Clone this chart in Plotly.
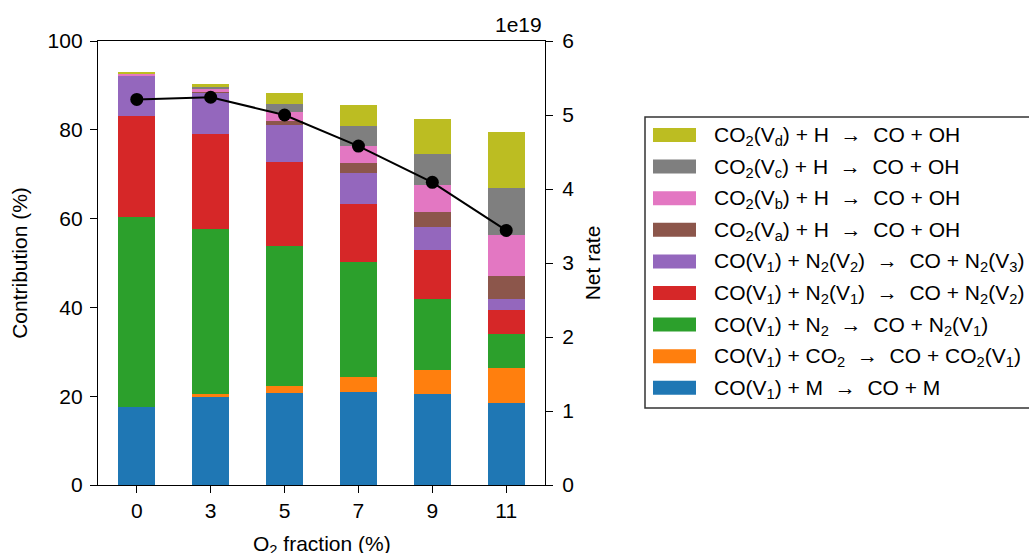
import plotly.graph_objects as go

# O2 fraction categories (%)
o2_fraction = ["0", "3", "5", "7", "9", "11"]

# Contribution of each reaction channel (%), stacked bottom to top
co_m = [17.6, 19.9, 20.7, 20.9, 20.6, 18.5]
co_co2 = [0.0, 0.6, 1.6, 3.4, 5.3, 7.9]
co_n2 = [42.7, 37.1, 31.5, 25.9, 16.1, 7.7]
co_n2v1 = [22.8, 21.4, 18.9, 13.1, 10.9, 5.3]
co_n2v2 = [9.1, 9.4, 8.4, 7.0, 5.1, 2.4]
co2_va = [0.1, 0.2, 0.9, 2.3, 3.5, 5.3]
co2_vb = [0.3, 0.5, 1.9, 3.8, 6.1, 9.3]
co2_vc = [0.1, 0.5, 2.0, 4.4, 6.9, 10.6]
co2_vd = [0.2, 0.8, 2.4, 4.7, 8.0, 12.6]

# Net rate (right axis)
net_rate = [5.21e19, 5.24e19, 5.00e19, 4.58e19, 4.09e19, 3.44e19]

series_names = [
    "CO(V<sub>1</sub>) + M  →  CO + M",
    "CO(V<sub>1</sub>) + CO<sub>2</sub>  →  CO + CO<sub>2</sub>(V<sub>1</sub>)",
    "CO(V<sub>1</sub>) + N<sub>2</sub>  →  CO + N<sub>2</sub>(V<sub>1</sub>)",
    "CO(V<sub>1</sub>) + N<sub>2</sub>(V<sub>1</sub>)  →  CO + N<sub>2</sub>(V<sub>2</sub>)",
    "CO(V<sub>1</sub>) + N<sub>2</sub>(V<sub>2</sub>)  →  CO + N<sub>2</sub>(V<sub>3</sub>)",
    "CO<sub>2</sub>(V<sub>a</sub>) + H  →  CO + OH",
    "CO<sub>2</sub>(V<sub>b</sub>) + H  →  CO + OH",
    "CO<sub>2</sub>(V<sub>c</sub>) + H  →  CO + OH",
    "CO<sub>2</sub>(V<sub>d</sub>) + H  →  CO + OH",
]
series_values = [co_m, co_co2, co_n2, co_n2v1, co_n2v2, co2_va, co2_vb, co2_vc, co2_vd]
colors = ["#1f77b4", "#ff7f0e", "#2ca02c", "#d62728", "#9467bd",
          "#8c564b", "#e377c2", "#7f7f7f", "#bcbd22"]

rate_ticks = [0, 1, 2, 3, 4, 5, 6]
pct_ticks = [0, 20, 40, 60, 80, 100]

FONT = "Liberation Sans, Arial, sans-serif"
FS = 21
W, H = 1029, 553
L, R, T, B = 98, 545, 41, 485  # plot-area pixel box


def px_x(x):
    return (x - L) / (R - L)


def px_y(y):
    return (B - y) / (B - T)


fig = go.Figure()
for name, vals, col in zip(series_names, series_values, colors):
    fig.add_trace(go.Bar(x=o2_fraction, y=vals, name=name, marker_color=col,
                         marker_line_width=0, showlegend=False))

fig.add_trace(go.Scatter(x=o2_fraction, y=net_rate, yaxis="y2", mode="lines+markers",
                         line=dict(color="black", width=2),
                         marker=dict(color="black", size=13),
                         showlegend=False))

axis_common = dict(showline=True, linecolor="black", linewidth=1.3, ticks="outside",
                   ticklen=7, tickwidth=1.3, tickcolor="black", showgrid=False,
                   zeroline=False, automargin=False,
                   tickfont=dict(family=FONT, size=FS, color="black"))

fig.update_layout(
    width=W, height=H,
    margin=dict(l=L, r=W - R, t=T, b=H - B),
    plot_bgcolor="white", paper_bgcolor="white",
    barmode="stack", bargap=0.5,
    font=dict(family=FONT, size=FS, color="black"),
    xaxis=dict(**axis_common, range=[-0.525, 5.525], mirror=True),
    yaxis=dict(**axis_common, range=[0, 100], tickvals=pct_ticks, ticklabelstandoff=3,
               title=dict(text="Contribution (%)", standoff=14,
                          font=dict(family=FONT, size=FS))),
    yaxis2=dict(**axis_common, overlaying="y", side="right", range=[0, 6e19],
                tickvals=[v * 1e19 for v in rate_ticks],
                ticktext=[str(v) for v in rate_ticks], ticklabelstandoff=5,
                title=dict(text="Net rate", standoff=11,
                           font=dict(family=FONT, size=FS))),
)

# x-axis title, placed below the tick labels
fig.add_annotation(text="O<sub>2</sub> fraction (%)", xref="paper", yref="paper",
                   x=0.5, y=0, xanchor="center", yanchor="top", yshift=-45,
                   showarrow=False, font=dict(family=FONT, size=FS, color="black"))

# Offset label for the right axis
fig.add_annotation(text="1e19", xref="paper", yref="paper", x=px_x(544), y=px_y(25),
                   xanchor="right", yanchor="middle", showarrow=False,
                   font=dict(family=FONT, size=FS, color="black"))

# Legend box with rectangular swatches, top entry = top of the stack
shapes = [dict(type="rect", xref="paper", yref="paper",
               x0=px_x(645), x1=px_x(1040), y0=px_y(408), y1=px_y(117),
               line=dict(color="#333333", width=1.5), fillcolor="white", layer="above")]
row_step = 31.6
for i, (name, col) in enumerate(zip(series_names[::-1], colors[::-1])):
    yc = 135 + row_step * i
    shapes.append(dict(type="rect", xref="paper", yref="paper",
                       x0=px_x(653), x1=px_x(696), y0=px_y(yc + 7), y1=px_y(yc - 7),
                       line=dict(width=0), fillcolor=col, layer="above"))
    fig.add_annotation(text=name, xref="paper", yref="paper", x=px_x(712), y=px_y(yc + 1),
                       xanchor="left", yanchor="middle", showarrow=False,
                       font=dict(family=FONT, size=FS, color="black"))
fig.update_layout(shapes=shapes)

fig.write_html("out.html")
